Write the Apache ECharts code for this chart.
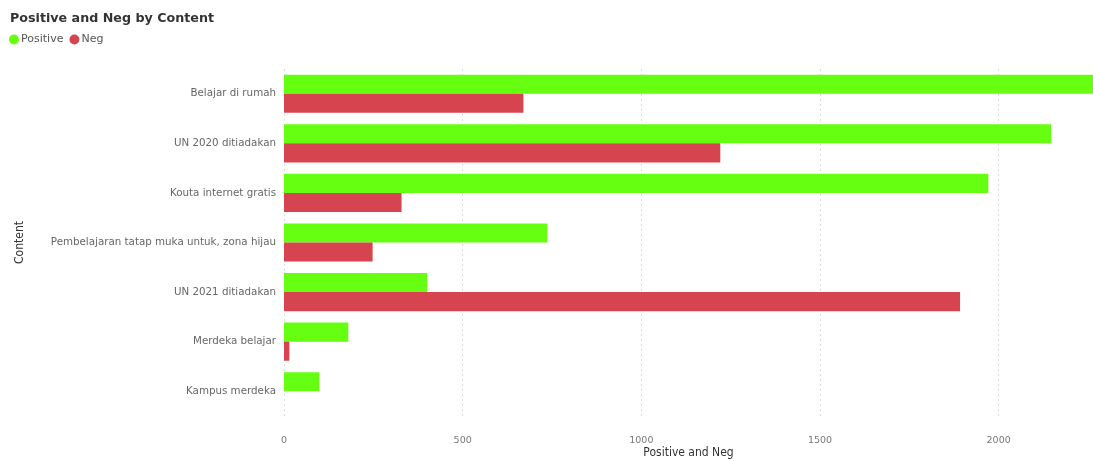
<!DOCTYPE html>
<html><head><meta charset="utf-8">
<script src="https://cdn.jsdelivr.net/npm/echarts@6/dist/echarts.min.js"></script>
<style>html,body{margin:0;padding:0;background:#fff;overflow:hidden}#c{width:1093px;height:461px}</style>
</head><body><div id="c"></div>
<script>
const categories = ["Belajar di rumah","UN 2020 ditiadakan","Kouta internet gratis","Pembelajaran tatap muka untuk, zona hijau","UN 2021 ditiadakan","Merdeka belajar","Kampus merdeka"];
const positiveValues = [2290, 2147, 1971, 737, 401, 180, 99];
const negValues = [670, 1221, 329, 248, 1892, 15, 0];
const xTicks = [0, 500, 1000, 1500, 2000];

const chart = echarts.init(document.getElementById('c'));
chart.setOption({
  animation: false,
  title: {text: 'Positive and Neg by Content', left: 5, top: 7,
    textStyle: {fontFamily: 'DejaVu Sans', fontSize: 12.7, fontWeight: 'bold', color: '#333'}},
  legend: {left: 4, top: 29, icon: 'circle', itemWidth: 10, itemHeight: 10, itemGap: 6,
    textStyle: {fontFamily: 'DejaVu Sans', fontSize: 11, color: '#555', padding: [0,0,0,-3]},
    data: ['Positive','Neg']},
  grid: {left: 284, right: 0, top: 69, bottom: 45, containLabel: false, outerBoundsMode: 'none'},
  xAxis: {type: 'value', min: 0, max: 2264, interval: 500,
    name: 'Positive and Neg', nameLocation: 'middle', nameGap: 31, nameMoveOverlap: false,
    nameTextStyle: {fontFamily: 'DejaVu Sans Condensed', fontSize: 12, color: '#333'},
    axisLine: {show: false}, axisTick: {show: false},
    axisLabel: {fontFamily: 'DejaVu Sans', fontSize: 9.5, color: '#777', margin: 20,
      formatter: v => xTicks.includes(v) ? String(v) : ''},
    splitLine: {show: true, showMaxLine: false, lineStyle: {type: [2,3], color: '#dcdcdc'}}},
  yAxis: {type: 'category', data: categories, inverse: true,
    name: 'Content', nameLocation: 'middle', nameGap: 258, nameRotate: 90, nameMoveOverlap: false,
    nameTextStyle: {fontFamily: 'DejaVu Sans Condensed', fontSize: 12, color: '#333'},
    axisLine: {show: false}, axisTick: {show: false},
    axisLabel: {fontFamily: 'DejaVu Sans', fontSize: 10.3, color: '#666', margin: 8}},
  series: [
    {name: 'Positive', type: 'bar', data: positiveValues, itemStyle: {color: '#66ff11'},
     barGap: '0%', barCategoryGap: '23%'},
    {name: 'Neg', type: 'bar', data: negValues, itemStyle: {color: '#d6454f'},
     barGap: '0%', barCategoryGap: '23%'}
  ]
});
</script></body></html>
